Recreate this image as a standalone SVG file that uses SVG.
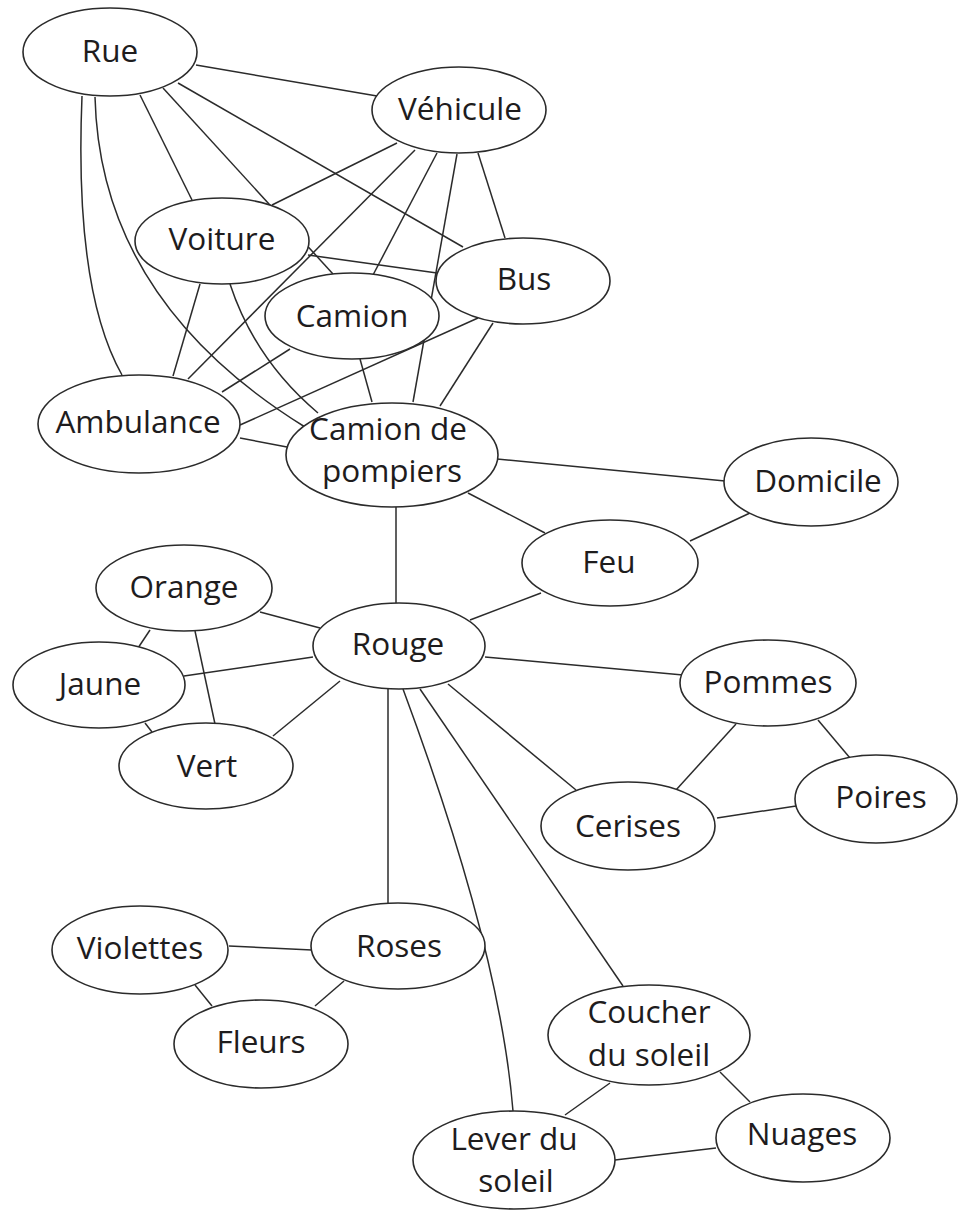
<svg xmlns="http://www.w3.org/2000/svg" width="959" height="1211" viewBox="0 0 959 1211">
<style>
.e{fill:#fff;stroke:#2b2b2b;stroke-width:1.6}
.c path,.c line{fill:none;stroke:#2b2b2b;stroke-width:1.5}
text{font-family:"Open Sans","Noto Sans",sans-serif;font-size:31.5px;fill:#1e1c1d;text-anchor:middle}
</style>
<rect width="959" height="1211" fill="#fff"/>
<g class="c" id="connectors">
<line x1="196" y1="65" x2="377" y2="96"/>
<path d="M82,96 Q74,290 122,375"/>
<path d="M95,97 Q100,300 305,427"/>
<line x1="140" y1="95" x2="192" y2="200"/>
<line x1="163" y1="88" x2="333" y2="274"/>
<line x1="178" y1="83" x2="463" y2="247"/>
<line x1="397" y1="143" x2="272" y2="205"/>
<line x1="415" y1="150" x2="188" y2="379"/>
<line x1="437" y1="153" x2="373" y2="275"/>
<line x1="457" y1="154" x2="413" y2="402"/>
<line x1="478" y1="153" x2="505" y2="238"/>
<line x1="308" y1="255" x2="437" y2="273"/>
<line x1="200" y1="284" x2="173" y2="376"/>
<path d="M230,284 Q255,360 318,413"/>
<line x1="290" y1="349" x2="222" y2="392"/>
<line x1="478" y1="318" x2="240" y2="425"/>
<line x1="493" y1="323" x2="440" y2="406"/>
<line x1="360" y1="359" x2="372" y2="402"/>
<line x1="240" y1="438" x2="287" y2="447"/>
<line x1="497" y1="459" x2="725" y2="481"/>
<line x1="468" y1="493" x2="545" y2="533"/>
<line x1="690" y1="541" x2="750" y2="513"/>
<line x1="396" y1="507" x2="396" y2="603"/>
<line x1="470" y1="620" x2="541" y2="593"/>
<line x1="485" y1="657" x2="683" y2="675"/>
<line x1="736" y1="724" x2="676" y2="790"/>
<line x1="818" y1="720" x2="850" y2="758"/>
<line x1="717" y1="818" x2="796" y2="806"/>
<line x1="448" y1="684" x2="576" y2="790"/>
<line x1="260" y1="612" x2="320" y2="628"/>
<line x1="150" y1="630" x2="138" y2="648"/>
<line x1="195" y1="631" x2="215" y2="724"/>
<line x1="184" y1="676" x2="313" y2="657"/>
<line x1="145" y1="723" x2="152" y2="732"/>
<line x1="273" y1="736" x2="340" y2="681"/>
<line x1="388" y1="689" x2="388" y2="903"/>
<path d="M403,689 Q500,950 513,1111"/>
<line x1="420" y1="689" x2="623" y2="986"/>
<line x1="229" y1="946" x2="312" y2="950"/>
<line x1="195" y1="985" x2="212" y2="1006"/>
<line x1="344" y1="981" x2="315" y2="1006"/>
<line x1="610" y1="1083" x2="565" y2="1115"/>
<line x1="720" y1="1072" x2="750" y2="1102"/>
<line x1="615" y1="1160" x2="716" y2="1148"/>
</g>
<g id="rue"><ellipse class="e" cx="110" cy="52" rx="87" ry="44"/><text x="110" y="62">Rue</text></g>
<g id="vehicule"><ellipse class="e" cx="459" cy="110" rx="87" ry="43"/><text x="460" y="120">Véhicule</text></g>
<g id="voiture"><ellipse class="e" cx="222" cy="241" rx="87" ry="43"/><text x="222" y="250">Voiture</text></g>
<g id="camion"><ellipse class="e" cx="352" cy="316" rx="87" ry="43"/><text x="352" y="327">Camion</text></g>
<g id="bus"><ellipse class="e" cx="523" cy="281" rx="87" ry="43"/><text x="524" y="290">Bus</text></g>
<g id="ambulance"><ellipse class="e" cx="139" cy="424" rx="101" ry="49"/><text x="138" y="433">Ambulance</text></g>
<g id="camion-pompiers"><ellipse class="e" cx="392" cy="455" rx="106" ry="52"/><text x="388" y="440">Camion de</text><text x="392" y="482">pompiers</text></g>
<g id="domicile"><ellipse class="e" cx="811" cy="482" rx="87" ry="44"/><text x="818" y="492">Domicile</text></g>
<g id="feu"><ellipse class="e" cx="610" cy="563" rx="88" ry="43"/><text x="609" y="573">Feu</text></g>
<g id="orange"><ellipse class="e" cx="184" cy="588" rx="88" ry="43"/><text x="184" y="598">Orange</text></g>
<g id="rouge"><ellipse class="e" cx="399" cy="646" rx="86" ry="43"/><text x="398" y="655">Rouge</text></g>
<g id="jaune"><ellipse class="e" cx="99" cy="685" rx="86" ry="43"/><text x="100" y="695">Jaune</text></g>
<g id="vert"><ellipse class="e" cx="206" cy="766" rx="87" ry="43"/><text x="207" y="777">Vert</text></g>
<g id="pommes"><ellipse class="e" cx="768" cy="683" rx="88" ry="43"/><text x="768" y="693">Pommes</text></g>
<g id="cerises"><ellipse class="e" cx="628" cy="826" rx="87" ry="44"/><text x="628" y="837">Cerises</text></g>
<g id="poires"><ellipse class="e" cx="876" cy="799" rx="81" ry="44"/><text x="881" y="808">Poires</text></g>
<g id="violettes"><ellipse class="e" cx="140" cy="950" rx="88" ry="44"/><text x="140" y="959">Violettes</text></g>
<g id="roses"><ellipse class="e" cx="398" cy="946" rx="87" ry="43"/><text x="399" y="957">Roses</text></g>
<g id="fleurs"><ellipse class="e" cx="261" cy="1044" rx="87" ry="44"/><text x="261" y="1053">Fleurs</text></g>
<g id="coucher"><ellipse class="e" cx="649" cy="1035" rx="101" ry="50"/><text x="649" y="1023">Coucher</text><text x="649" y="1066">du soleil</text></g>
<g id="nuages"><ellipse class="e" cx="803" cy="1138" rx="87" ry="44"/><text x="802" y="1145">Nuages</text></g>
<g id="lever"><ellipse class="e" cx="514" cy="1160" rx="101" ry="49"/><text x="514" y="1150">Lever du</text><text x="516" y="1192">soleil</text></g>
</svg>
